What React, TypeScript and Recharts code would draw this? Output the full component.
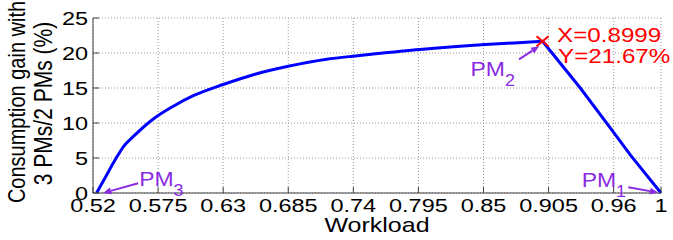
import { ComposedChart, Line, XAxis, YAxis, CartesianGrid, ReferenceDot } from 'recharts';

// workload (x) and consumption gain in % (y)
const workload = [
    0.523, 0.530, 0.5386, 0.5456, 0.5555, 0.5696, 0.5879, 0.6048, 0.630, 0.6555,
    0.685, 0.7175, 0.74, 0.7542, 0.7964, 0.8514, 0.8999, 0.9318, 0.9598, 0.9742, 1.0,
];
const gain = [
    0, 2.1, 4.7, 6.6, 8.3, 10.4, 12.4, 13.9, 15.5, 16.9,
    18.1, 19.1, 19.55, 19.8, 20.5, 21.2, 21.67, 15.0, 8.7, 5.4, 0,
];

const xTicks = [0.52, 0.575, 0.63, 0.685, 0.74, 0.795, 0.85, 0.905, 0.96, 1];
const yTicks = [0, 5, 10, 15, 20, 25];

const peakX = 0.8999;
const peakY = 21.67;

// PM annotations: subscript, anchor point on the curve
const pmSubs = ['3', '2', '1'];
const pmAnchorX = [0.523, 0.8999, 1];
const pmAnchorY = [0, 21.67, 0];

// rising branch is smooth, falling branch is straight -> two lines sharing the peak
const rows = workload.map((x, i) => ({
    x,
    up: x <= peakX ? gain[i] : null,
    down: x >= peakX ? gain[i] : null,
}));

const FONT = '"Liberation Sans", Arial, sans-serif';
const AXIS = '#404040';
const PURPLE = '#8a2be2';

// pixel offsets of arrow + text relative to each anchor
const pmLayout = [
    { head: [6.6, 0], tail: [41.6, -9.7], text: [42.6, -7] },
    { head: [-3.5, 5], tail: [-23.5, 18], text: [-72, 35] },
    { head: [-3, -0.5], tail: [-32.7, -5.7], text: [-79.3, -5.7] },
];

const XTick = (p: any) => (
    <text
        transform={`translate(${p.x},${p.y + 19}) scale(1.27,1)`}
        textAnchor="middle"
        fontFamily={FONT}
        fontSize={18.5}
        fill="#000"
    >
        {p.payload.value}
    </text>
);

const YTick = (p: any) => (
    <text
        transform={`translate(${p.x},${p.y + 6.5}) scale(1.27,1)`}
        textAnchor="end"
        fontFamily={FONT}
        fontSize={18.5}
        fill="#000"
    >
        {p.payload.value}
    </text>
);

const PeakMark = ({ cx, cy }: any) => (
    <g>
        <line x1={cx - 6} y1={cy - 5} x2={cx + 6} y2={cy + 5} stroke="#ff0000" strokeWidth={2} />
        <line x1={cx - 6} y1={cy + 5} x2={cx + 6} y2={cy - 5} stroke="#ff0000" strokeWidth={2} />
        <text transform={`translate(${cx + 14.5},${cy + 0.5}) scale(1.24,1)`} fontFamily={FONT} fontSize={19.5} fill="#ff0000">
            X={peakX}
        </text>
        <text transform={`translate(${cx + 15.5},${cy + 21.5}) scale(1.24,1)`} fontFamily={FONT} fontSize={19.5} fill="#ff0000">
            Y={peakY}%
        </text>
    </g>
);

const PmMark = ({ cx, cy, idx }: any) => {
    const l = pmLayout[idx];
    const hx = cx + l.head[0], hy = cy + l.head[1];
    const tx = cx + l.tail[0], ty = cy + l.tail[1];
    const ang = Math.atan2(hy - ty, hx - tx);
    const len = 8, w = 3.5;
    const bx = hx - len * Math.cos(ang), by = hy - len * Math.sin(ang);
    const p1 = `${bx - w * Math.sin(ang)},${by + w * Math.cos(ang)}`;
    const p2 = `${bx + w * Math.sin(ang)},${by - w * Math.cos(ang)}`;
    return (
        <g>
            <line x1={tx} y1={ty} x2={bx} y2={by} stroke={PURPLE} strokeWidth={2} />
            <polygon points={`${hx},${hy} ${p1} ${p2}`} fill={PURPLE} />
            <text
                transform={`translate(${cx + l.text[0]},${cy + l.text[1]}) scale(1.12,1)`}
                fontFamily={FONT}
                fontSize={20.5}
                fill={PURPLE}
            >
                PM
                <tspan dy={10} fontSize={16}>{pmSubs[idx]}</tspan>
            </text>
        </g>
    );
};

const App = () => {
    return (
        <div style={{ position: 'absolute', left: 0, top: 0, width: 673, height: 240, background: '#fff' }}>
            <ComposedChart width={673} height={240} data={rows} margin={{ top: 18, right: 12, left: 0, bottom: 0 }}>
                <CartesianGrid stroke="#999" strokeDasharray="1 2" />
                <XAxis
                    dataKey="x"
                    type="number"
                    domain={[0.52, 1]}
                    ticks={xTicks}
                    interval={0}
                    height={47}
                    tickSize={-6}
                    tickMargin={6}
                    stroke={AXIS}
                    tick={(p: any) => <XTick {...p} />}
                />
                <YAxis
                    type="number"
                    domain={[0, 25]}
                    ticks={yTicks}
                    interval={0}
                    width={93}
                    tickSize={-6}
                    tickMargin={11}
                    stroke={AXIS}
                    tick={(p: any) => <YTick {...p} />}
                />
                <XAxis
                    xAxisId="top"
                    orientation="top"
                    type="number"
                    domain={[0.52, 1]}
                    ticks={xTicks}
                    interval={0}
                    height={0}
                    tickSize={-6}
                    stroke={AXIS}
                    tick={false}
                />
                <YAxis
                    yAxisId="right"
                    orientation="right"
                    type="number"
                    domain={[0, 25]}
                    ticks={yTicks}
                    interval={0}
                    width={0}
                    tickSize={-6}
                    stroke={AXIS}
                    tick={false}
                />
                <Line
                    type="monotone"
                    dataKey="up"
                    stroke="#0000ff"
                    strokeWidth={3}
                    dot={false}
                    connectNulls={false}
                    isAnimationActive={false}
                />
                <Line
                    type="linear"
                    dataKey="down"
                    stroke="#0000ff"
                    strokeWidth={3}
                    dot={false}
                    connectNulls={false}
                    isAnimationActive={false}
                />
                {pmAnchorX.map((ax, i) => (
                    <ReferenceDot
                        key={i}
                        x={ax}
                        y={pmAnchorY[i]}
                        ifOverflow="visible"
                        shape={(p: any) => <PmMark cx={p.cx} cy={p.cy} idx={i} />}
                    />
                ))}
                <ReferenceDot
                    x={peakX}
                    y={peakY}
                    ifOverflow="visible"
                    shape={(p: any) => <PeakMark cx={p.cx} cy={p.cy} />}
                />
            </ComposedChart>
            <svg width={673} height={240} style={{ position: 'absolute', left: 0, top: 0, pointerEvents: 'none' }}>
                <text transform="translate(25,102) scale(1.2,1) rotate(-90)" textAnchor="middle" fontFamily={FONT} fontSize={20} fill="#000">
                    Consumption gain with
                </text>
                <text transform="translate(52,103.5) scale(1.2,1) rotate(-90)" textAnchor="middle" fontFamily={FONT} fontSize={21} fill="#000">
                    3 PMs/2 PMs (%)
                </text>
                <text transform="translate(377,232) scale(1.19,1)" textAnchor="middle" fontFamily={FONT} fontSize={21} fill="#000">
                    Workload
                </text>
            </svg>
        </div>
    );
};

export default App;
